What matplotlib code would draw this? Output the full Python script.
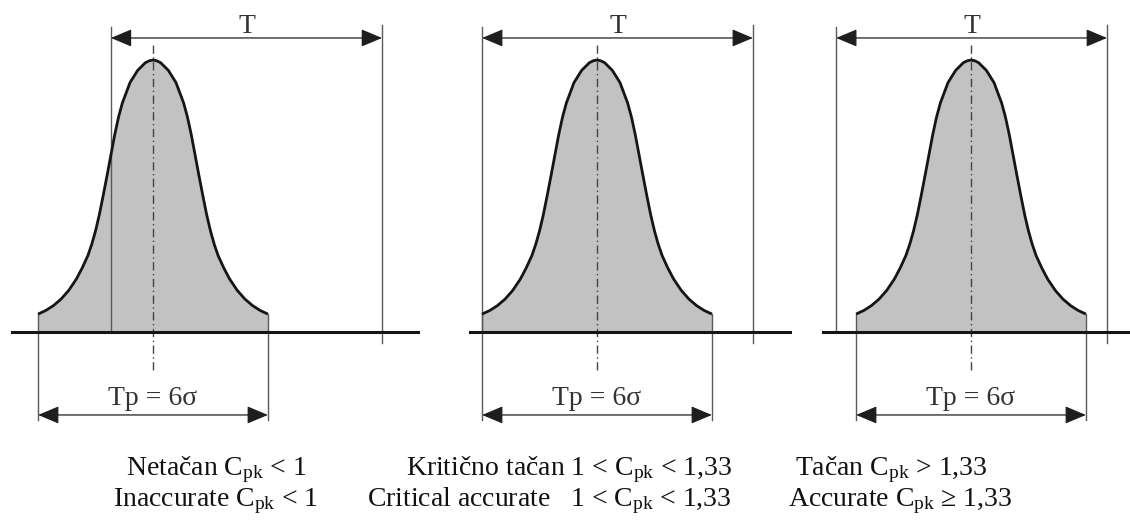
import matplotlib
matplotlib.use("Agg")
import matplotlib.pyplot as plt

# Half profile of the drawn bell curve (mirrored for the other side)
# offset from the mean in sigma, height relative to the peak
bell_offset = [0.0, 0.1, 0.2, 0.4, 0.6, 0.8, 0.9, 1.0, 1.1, 1.2, 1.3, 1.4, 1.5,
               1.6, 1.7, 1.85, 2.0, 2.2, 2.4, 2.6, 2.8, 3.0]
bell_height = [1.000, 0.997, 0.990, 0.962, 0.917, 0.842, 0.790, 0.725, 0.650, 0.575, 0.502, 0.432,
               0.372, 0.322, 0.281, 0.235, 0.195, 0.153, 0.121, 0.097, 0.079, 0.066]

# Tolerance limits of every panel, in sigma from the process mean
lsl = [-1.10, -3.00, -3.52]
usl = [5.98, 4.07, 3.55]

# How far the horizontal axis runs on each side, in sigma
axis_from = [-3.68, -3.32, -3.86]
axis_to = [6.92, 5.04, 4.10]

tol_label = "T"
spread_label = "Tp = 6σ"

# Captions under the panels (Serbian line, English line)
captions_sr = [r"Netačan $\mathregular{C_{pk}}$ < 1",
               r"Kritično tačan 1 < $\mathregular{C_{pk}}$ < 1,33",
               r"Tačan $\mathregular{C_{pk}}$ > 1,33"]
captions_en = [r"Inaccurate $\mathregular{C_{pk}}$ < 1",
               r"Critical accurate   1 < $\mathregular{C_{pk}}$ < 1,33",
               r"Accurate $\mathregular{C_{pk}}$ ≥ 1,33"]

W, H = 1130, 522          # picture size in pixels
SIG_PX = 38.3             # one sigma in pixels
PEAK_PX = 272             # height of the bell in pixels
BASE_PX = 332             # baseline, pixels from the top
PANEL_CENTER_PX = [153, 597, 971]

plt.rcParams['font.family'] = ['Liberation Serif', 'DejaVu Serif']
plt.rcParams['mathtext.fontset'] = 'custom'
plt.rcParams['mathtext.rm'] = 'Liberation Serif'
plt.rcParams['lines.scale_dashes'] = False

THIN = '#5a5a5a'
DARK = '#151515'
ARROW = dict(arrowstyle='<|-|>,head_length=1.0,head_width=0.42',
             mutation_scale=13, lw=0.9, color='#1e1e1e', shrinkA=0, shrinkB=0)


def draw_panel(fig, k):
    # One transparent axes over the whole figure, scaled in sigma / peak height
    ax = fig.add_axes([0, 0, 1, 1])
    ax.patch.set_alpha(0)
    ax.axis('off')
    c = PANEL_CENTER_PX[k]
    ax.set_xlim(-c / SIG_PX, (W - c) / SIG_PX)
    ax.set_ylim(-(H - BASE_PX) / PEAK_PX, BASE_PX / PEAK_PX)

    xs = [-o for o in bell_offset[::-1]] + bell_offset[1:]
    ys = bell_height[::-1] + bell_height[1:]
    end_h = bell_height[-1]

    # grey area under the curve
    ax.fill_between(xs, 0, ys, color='#c2c2c2', lw=0, zorder=1)

    # tolerance limits T
    t_top, t_arrow = 1.121, 1.081
    ax.plot([lsl[k], lsl[k]], [t_top, 0], color=THIN, lw=1.0, zorder=2)
    ax.plot([usl[k], usl[k]], [t_top + 0.007, -0.04], color=THIN, lw=1.0, zorder=2)
    ax.annotate('', xy=(usl[k], t_arrow), xytext=(lsl[k], t_arrow),
                arrowprops=ARROW, zorder=3)
    ax.text((lsl[k] + usl[k]) / 2, 1.098, tol_label, ha='center', va='baseline',
            fontsize=20, color='#333333')

    # process spread Tp = 6 sigma
    lo, hi = xs[0], xs[-1]
    ax.plot([lo, lo], [end_h, -0.324], color=THIN, lw=1.0, zorder=2)
    ax.plot([hi, hi], [end_h, -0.324], color=THIN, lw=1.0, zorder=2)
    ax.annotate('', xy=(hi, -0.305), xytext=(lo, -0.305), arrowprops=ARROW, zorder=3)
    ax.text(0, -0.268, spread_label, ha='center', va='baseline', fontsize=20, color='#333333')

    # mean line, curve and baseline
    ax.plot([0, 0], [1.055, -0.151], color='#444444', lw=1.0,
            linestyle=(0, (6, 2.5, 1, 2.5)), zorder=4)
    ax.plot(xs, ys, color=DARK, lw=2.0, solid_capstyle='butt', solid_joinstyle='round', zorder=5)
    ax.plot([axis_from[k], axis_to[k]], [0, 0], color=DARK, lw=2.2, zorder=5)


def main():
    fig = plt.figure(figsize=(W / 100, H / 100), dpi=100)
    for k in range(3):
        draw_panel(fig, k)

    # captions, placed in pixels
    sr_pos = [(216, 'center'), (732, 'right'), (891, 'center')]
    en_pos = [(216, 'center'), (732, 'right'), (900, 'center')]
    for text, (x, ha) in zip(captions_sr, sr_pos):
        fig.text(x / W, 1 - 475 / H, text, ha=ha, va='baseline', fontsize=20, color='#111111')
    for text, (x, ha) in zip(captions_en, en_pos):
        fig.text(x / W, 1 - 506 / H, text, ha=ha, va='baseline', fontsize=20, color='#111111')

    fig.savefig('out.png', dpi=100)


if __name__ == '__main__':
    main()
